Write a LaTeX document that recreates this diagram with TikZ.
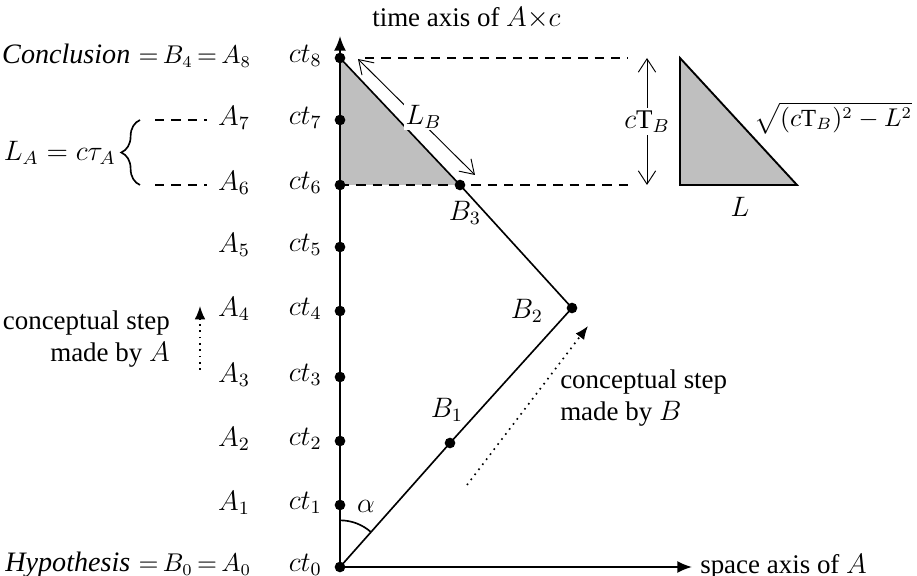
\documentclass[tikz,border=0pt]{standalone}
\usepackage{fontspec}
\setmainfont{Liberation Serif}
\usepackage{amsmath}
\usetikzlibrary{arrows.meta,decorations.pathreplacing,angles}
\definecolor{flgrau}{HTML}{BFBFBF}
\newcommand{\gross}[1]{{\fontsize{12}{15}\selectfont\textit{#1}}}
\tikzset{
  ax/.style={-{Latex[length=2.2mm,width=1.8mm]},line width=0.8pt},
  linie/.style={line width=0.7pt},
  hilf/.style={dash pattern=on 4pt off 3pt,line width=0.7pt},
  flaeche/.style={fill=flgrau,draw=black,line width=0.8pt},
  mass/.style={{Straight Barb[length=2mm,width=2.6mm]}-{Straight Barb[length=2mm,width=2.6mm]},line width=0.4pt},
  schritt/.style={-{Latex[length=2mm,width=1.6mm]},dotted,line width=0.7pt},
  pkt/.style={circle,fill=black,inner sep=0pt,minimum size=1.6mm},
  eng/.style={execute at begin node={\thickmuskip=3mu plus 1mu}},
  satz/.style={anchor=east,eng,inner sep=1pt,font=\fontsize{10.5}{13}\selectfont},
}

\begin{document}
\begin{tikzpicture}[x=0.015cm,y=-0.015cm,font=\fontsize{11.5}{14}\selectfont]
  \useasboundingbox (0,0) rectangle (917,576);
  % Punkte auf der Zeitachse und Weltlinie von B
  \foreach \i/\y in {0/567,1/505,2/441,3/377,4/311,5/247,6/185,7/120,8/58}
    \coordinate (t\i) at (340,\y);
  \coordinate (b1) at (450,443);
  \coordinate (b2) at (572,308);
  \coordinate (b3) at (460,185);
  \coordinate (tend) at (340,36);
  \coordinate (xend) at (692,567);
  \fill[flgrau] (t8) -- (t6) -- (b3) -- cycle;
  \draw[ax] (t0) -- (tend);
  \draw[ax] (t0) -- (xend);
  \node[anchor=west] (tlab) at (364,18) {time axis of $A{\times}c$};
  \node[anchor=west] (xlab) at (xend) {space axis of $A$};
  \draw[linie] (t0) -- (b1) -- (b2) -- (b3) -- (t8);
  \pic[draw,linie,angle radius=0.7cm] {angle=b2--t0--t8};
  \node (al) at (366,506) {$\alpha$};
  % Hilfslinien
  \coordinate (h8) at (365,58);
  \coordinate (d8) at (628,58);
  \coordinate (d6) at (628,185);
  \draw[hilf] (h8) -- (d8);
  \draw[hilf] (t6) -- (d6);
  \coordinate (m8) at (647,58);
  \coordinate (m6) at (647,185);
  \draw[mass] (m6) -- (m8) node[midway,fill=white,inner sep=1pt] (ctb) {$c\mathrm{T}_B$};
  \coordinate (lb1) at (358,59);
  \coordinate (lb2) at (475,175);
  \draw[mass] (lb1) -- (lb2) node[pos=0.5,fill=white,inner sep=0.5pt,xshift=3pt] (lbn) {$L_B$};
  % rechtes Dreieck
  \coordinate (r1) at (680,58);
  \coordinate (r2) at (680,185);
  \coordinate (r3) at (797,185);
  \draw[flaeche] (r1) -- (r2) -- (r3) -- cycle;
  \node[anchor=east,inner sep=1pt,eng,font=\fontsize{10.5}{13}\selectfont] (hyp) at (915,118) {$\sqrt{(c\mathrm{T}_B)^2-L^2}$};
  \node (ln) at (740,207) {$L$};
  % Beschriftung links
  \foreach \i/\y in {0/565,1/503,2/439,3/375,4/309,5/245,6/183,7/118,8/56} {
    \node[pkt] (p\i) at (t\i) {};
    \node[anchor=east] (c\i) at (330,\y) {$ct_{\i}$};
  }
  \foreach \i/\y in {1/503,2/439,3/375,4/309,5/245,6/183,7/118}
    \node (a\i) at (234,\y) {$A_{\i}$};
  \node[satz] (a8) at (254,56) {\gross{Conclusion}\,${}= B_4 = A_8$};
  \node[satz] (a0) at (254,565) {\gross{Hypothesis}\,${}= B_0 = A_0$};
  \node[pkt] (pb1) at (b1) {};
  \node[pkt] (pb2) at (b2) {};
  \node[pkt] (pb3) at (b3) {};
  \node (nb1) at (447,410) {$B_1$};
  \node (nb2) at (527,311) {$B_2$};
  \node (nb3) at (465,213) {$B_3$};
  % L_A mit Klammer
  \coordinate (k6) at (140,185);
  \coordinate (k7) at (140,120);
  \draw[linie,decorate,decoration={brace,amplitude=8pt}] (k6) -- (k7);
  \node[anchor=east] (la) at (124,153) {$L_A = c\tau_A$};
  \coordinate (e7a) at (155,120);
  \coordinate (e7b) at (207,120);
  \coordinate (e6a) at (155,185);
  \coordinate (e6b) at (207,185);
  \draw[hilf] (e7a) -- (e7b);
  \draw[hilf] (e6a) -- (e6b);
  % konzeptionelle Schritte
  \node[align=right,anchor=east] (sa) at (178,339) {conceptual step\\made by $A$};
  \coordinate (sa1) at (200,370);
  \coordinate (sa2) at (200,306);
  \draw[schritt] (sa1) -- (sa2);
  \node[align=left,anchor=west] (sb) at (552,398) {conceptual step\\made by $B$};
  \coordinate (sb1) at (467,485);
  \coordinate (sb2) at (588,326);
  \draw[schritt] (sb1) -- (sb2);
\end{tikzpicture}
\end{document}
